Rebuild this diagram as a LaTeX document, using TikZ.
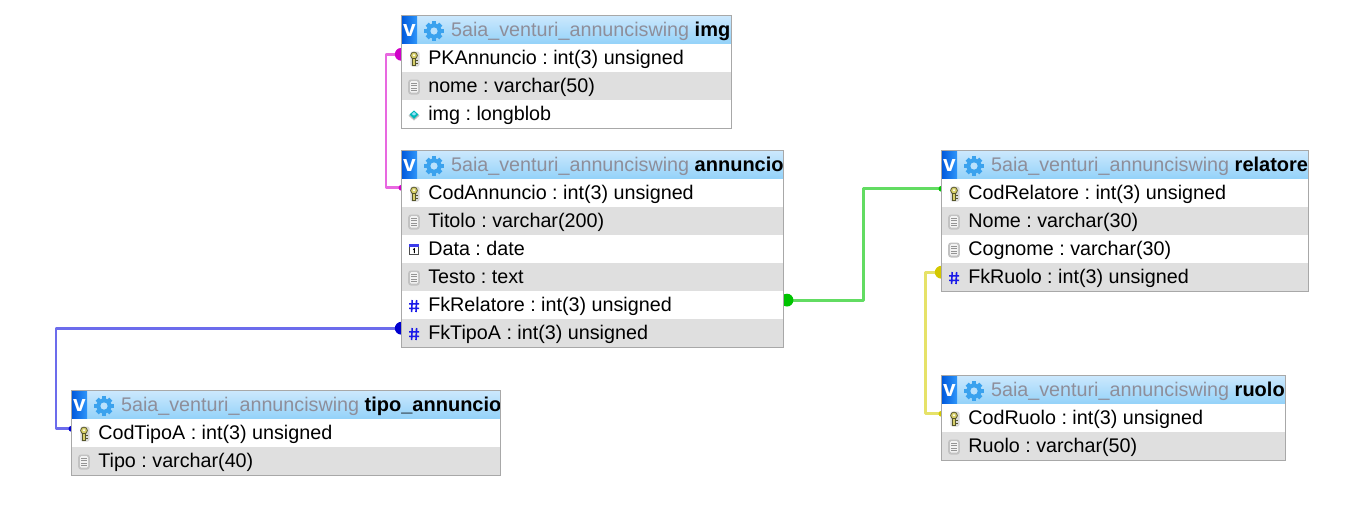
\documentclass[tikz,border=0pt]{standalone}
\usepackage{fontspec}
\setmainfont{Liberation Sans}
\usetikzlibrary{backgrounds,fit,calc}
\newdimen\pxu \pxu=.75pt
\definecolor{hdrtop}{HTML}{CBE8FD}
\definecolor{hdrbot}{HTML}{93D2F9}
\definecolor{rowgrey}{HTML}{DFDFDF}
\definecolor{frame}{HTML}{A8A8A8}
\definecolor{titlegrey}{HTML}{8E8E9A}
\definecolor{gearblue}{HTML}{3AA2EE}
\definecolor{hashblue}{HTML}{1A1AE8}
\definecolor{vdark}{HTML}{0058DC}
\definecolor{vlight}{HTML}{2E96FA}
\definecolor{keybody}{HTML}{D6CE6A}
\definecolor{keyline}{HTML}{55552A}
\definecolor{lpink}{HTML}{E868E0}\definecolor{dpink}{HTML}{D000C8}
\definecolor{lblue}{HTML}{6C6CEC}\definecolor{dblue}{HTML}{0000D0}
\definecolor{lgreen}{HTML}{62DC62}\definecolor{dgreen}{HTML}{00C400}
\definecolor{lyellow}{HTML}{E6E268}\definecolor{dyellow}{HTML}{D4C800}
\tikzset{
  hdrbox/.style={anchor=north west,inner sep=0pt,top color=hdrtop,bottom color=hdrbot,text height=15.2pt,text depth=5.8pt,font=\fontsize{15}{18}\selectfont},
  rowbox/.style={anchor=north west,inner sep=0pt,text height=15.2pt,text depth=5.8pt,font=\fontsize{14.8}{18}\selectfont,text=black},
  whiterow/.style={rowbox,fill=white},
  greyrow/.style={rowbox,fill=rowgrey},
  tableframe/.style={draw=frame,line width=.8pt,inner sep=0pt},
  vbtn/.style={anchor=center,inner sep=0pt,text=white,font=\fontsize{17}{18}\bfseries\selectfont},
  link/.style={line width=2.2pt,line join=round},
  bigdot/.style={circle,inner sep=0pt,minimum size=9.6pt},
  smalldot/.style={circle,inner sep=0pt,minimum size=4.5pt},
}
% ---- icons, drawn around a local origin
\newcommand\icokey{%
  \fill[black!15,rounded corners=1.5] (-3.6,-7) rectangle (5.5,8);
  \draw[keyline,fill=keybody,line width=.55pt] (0,-3) circle (3.4);
  \fill[white] (0,-3.3) circle (1.1);
  \draw[keyline,fill=keybody,line width=.5pt] (-1.5,.2) rectangle (1.5,6.6);
  \draw[keyline,line width=.8pt] (1.5,2.4) -- (3.6,2.4) (1.5,5) -- (3.6,5);
}
\newcommand\icodoc{%
  \fill[black!24,rounded corners=2] (-5.8,-7) rectangle (5.8,8);
  \fill[black!5,rounded corners=1] (-4,-5.4) rectangle (4,6.2);
  \foreach \yy in {-3,-.6,1.8,4.2}{\draw[black!42,line width=.75pt] (-2.8,\yy) -- (2.8,\yy);}
}
\newcommand\icodate{%
  \fill[white] (-5,-5) rectangle (5,5.5);
  \draw[black!70,line width=.7pt] (-4.6,-4.6) rectangle (4.6,5);
  \fill[hashblue!85!white] (-5,-5.2) rectangle (5,-2.4);
  \draw[black,line width=.7pt] (-.8,0) -- (.4,-.8) -- (.4,3.6);
}
\newcommand\icohash{%
  \draw[hashblue,line width=1.2pt] (-1.8,-5.5) -- (-2.4,6.5) (2.6,-5.5) -- (2,6.5) (-5,-1.6) -- (5,-1.6) (-5,2.8) -- (5,2.8);
}
\newcommand\icoblob{%
  \fill[black!25] (0,-3.6) -- (5.5,1.2) -- (0,6) -- (-5.5,1.2) -- cycle;
  \fill[teal!55!cyan] (0,-4) -- (4.5,0) -- (0,4.4) -- (-4.5,0) -- cycle;
  \fill[white!60!cyan] (0,-2.6) -- (2.2,-.4) -- (0,1) -- (-2.2,-.4) -- cycle;
}
\newcommand\icogear{%
  \foreach \aa in {0,45,...,315}{\fill[gearblue,rotate=\aa] (-2.2,-9.6) rectangle (2.2,0);}
  \fill[gearblue] (0,0) circle (7.6);
  \fill[hdrtop!70!hdrbot] (0,0) circle (3.6);
}
% {name}{x}{y}{w}{bold title}
\newcommand\tablehead[5]{%
  \node[hdrbox] (#1) at (#2,#3) {\makebox[#4\pxu][l]{\hspace{37pt}{\fontsize{14.8}{18}\selectfont\textcolor{titlegrey}{5aia\_venturi\_annunciswing}} \textbf{#5}}};
  \fill[left color=vdark,right color=vlight] (#2,#3) rectangle ++(15.5,28);
  \node[vbtn] (#1v) at ($(#2,#3)+(8,15)$) {v};
  \begin{scope}[shift={($(#2,#3)+(32.5,15.5)$)}]\icogear\end{scope}
}
% {style}{name}{x}{y}{w}{icon}{text}
\newcommand\tablerow[7]{%
  \node[#1] (#2) at (#3,#4) {\makebox[#5\pxu][l]{\hspace{19.9pt}#7}};
  \begin{scope}[shift={($(#3,#4)+(12.5,15)$)}]#6\end{scope}
}
\begin{document}
\frenchspacing
\begin{tikzpicture}[x=.75pt,y=-.75pt]
\useasboundingbox (0,0) rectangle (1364,519);
\begin{pgfonlayer}{background}
  \fill[white] (0,0) rectangle (1364,519);
\end{pgfonlayer}
\begin{scope}[shift={(-.5,-.5)}]
% img
\tablehead{imgH}{402}{16}{329.5}{img}
\tablerow{whiterow}{imgPK}{402}{44}{329.5}{\icokey}{PKAnnuncio : int(3) unsigned}
\tablerow{greyrow}{imgNome}{402}{72}{329.5}{\icodoc}{nome : varchar(50)}
\tablerow{whiterow}{imgImg}{402}{100}{329.5}{\icoblob}{img : longblob}
\node[tableframe,fit=(imgH)(imgImg)] (imgT) {};

% annuncio
\tablehead{annH}{402}{151}{381.5}{annuncio}
\tablerow{whiterow}{annCod}{402}{179}{381.5}{\icokey}{CodAnnuncio : int(3) unsigned}
\tablerow{greyrow}{annTit}{402}{207}{381.5}{\icodoc}{Titolo : varchar(200)}
\tablerow{whiterow}{annDat}{402}{235}{381.5}{\icodate}{Data : date}
\tablerow{greyrow}{annTes}{402}{263}{381.5}{\icodoc}{Testo : text}
\tablerow{whiterow}{annRel}{402}{291}{381.5}{\icohash}{FkRelatore : int(3) unsigned}
\tablerow{greyrow}{annTip}{402}{319}{381.5}{\icohash}{FkTipoA : int(3) unsigned}
\node[tableframe,fit=(annH)(annTip)] (annT) {};

% relatore
\tablehead{relH}{942}{151}{366.5}{relatore}
\tablerow{whiterow}{relCod}{942}{179}{366.5}{\icokey}{CodRelatore : int(3) unsigned}
\tablerow{greyrow}{relNom}{942}{207}{366.5}{\icodoc}{Nome : varchar(30)}
\tablerow{whiterow}{relCog}{942}{235}{366.5}{\icodoc}{Cognome : varchar(30)}
\tablerow{greyrow}{relRuo}{942}{263}{366.5}{\icohash}{FkRuolo : int(3) unsigned}
\node[tableframe,fit=(relH)(relRuo)] (relT) {};

% ruolo
\tablehead{ruoH}{942}{376}{343.5}{ruolo}
\tablerow{whiterow}{ruoCod}{942}{404}{343.5}{\icokey}{CodRuolo : int(3) unsigned}
\tablerow{greyrow}{ruoRuo}{942}{432}{343.5}{\icodoc}{Ruolo : varchar(50)}
\node[tableframe,fit=(ruoH)(ruoRuo)] (ruoT) {};

% tipo_annuncio
\tablehead{tipH}{72}{391}{428.5}{tipo\_annuncio}
\tablerow{whiterow}{tipCod}{72}{419}{428.5}{\icokey}{CodTipoA : int(3) unsigned}
\tablerow{greyrow}{tipTip}{72}{447}{428.5}{\icodoc}{Tipo : varchar(40)}
\node[tableframe,fit=(tipH)(tipTip)] (tipT) {};
\end{scope}

% connectors, behind the tables
\begin{pgfonlayer}{background}
  \draw[link,lpink] ([yshift=2.6pt]imgPK.west) -- ++(-15.5,0) |- ([yshift=3.75pt]annCod.west);
  \node[bigdot,fill=dpink] (dImg) at ([xshift=-.2pt,yshift=2.6pt]imgPK.west) {};
  \node[smalldot,fill=dpink] (dAnn) at ([yshift=3.75pt]annCod.west) {};

  \draw[link,lgreen] ([yshift=3.5pt]annRel.east) -- ++(79.5,0) |- ([yshift=3pt]relCod.west);
  \node[bigdot,fill=dgreen] (dRel) at ([xshift=2.6pt,yshift=3.5pt]annRel.east) {};
  \node[smalldot,fill=dgreen] (dRelC) at ([yshift=3pt]relCod.west) {};

  \draw[link,lyellow] ([yshift=3.4pt]relRuo.west) -- ++(-16,0) |- ([yshift=3pt]ruoCod.west);
  \node[bigdot,fill=dyellow] (dRuo) at ([xshift=-.2pt,yshift=3.4pt]relRuo.west) {};
  \node[smalldot,fill=dyellow] (dRuoC) at ([yshift=3pt]ruoCod.west) {};

  \draw[link,lblue] ([yshift=3.4pt]annTip.west) -- ++(-345.5,0) |- ([yshift=3pt]tipCod.west);
  \node[bigdot,fill=dblue] (dTip) at ([xshift=-.2pt,yshift=3.4pt]annTip.west) {};
  \node[smalldot,fill=dblue] (dTipC) at ([yshift=3pt]tipCod.west) {};
\end{pgfonlayer}
\end{tikzpicture}
\end{document}
